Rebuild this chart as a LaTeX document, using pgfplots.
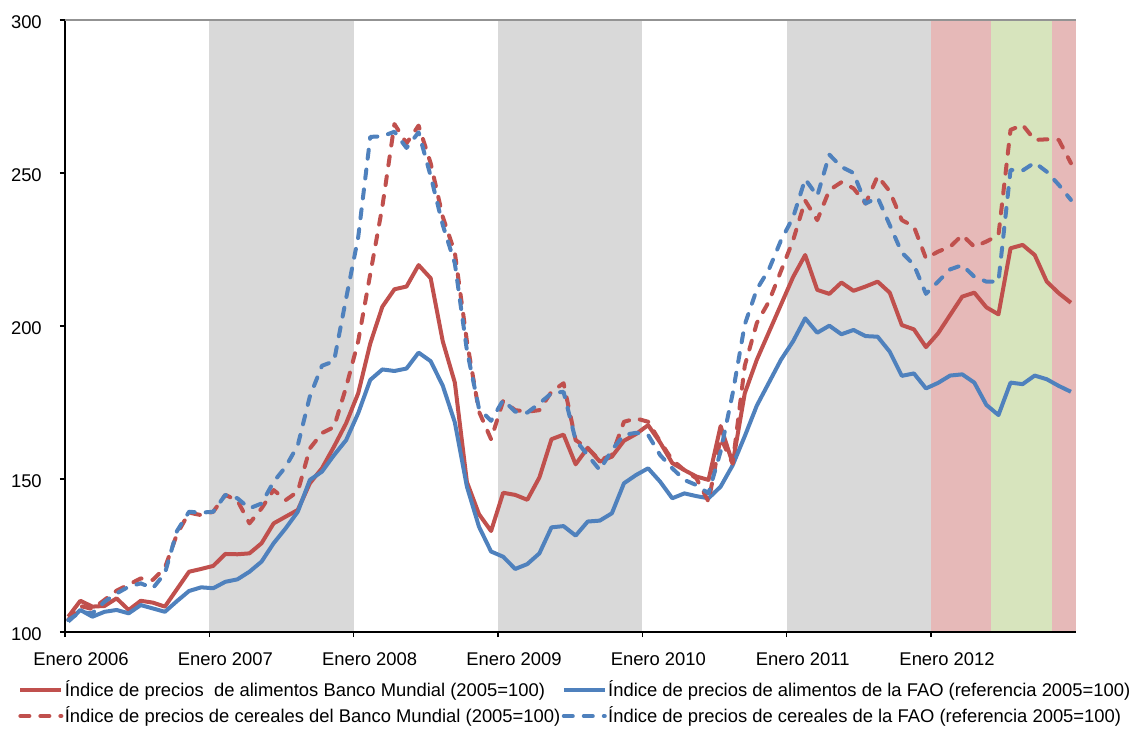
\documentclass[border=0pt]{standalone}
\usepackage{pgfplots}
\usepackage{pgfplotstable}
\pgfplotsset{compat=1.18}
\usepackage{fontspec}
\setmainfont{Liberation Sans}
\definecolor{wbred}{RGB}{192,80,77}
\definecolor{faoblue}{RGB}{79,129,189}
\definecolor{bandgray}{RGB}{217,217,217}
\definecolor{bandred}{RGB}{230,185,184}
\definecolor{bandgreen}{RGB}{215,228,189}
\pgfplotstableread{
m wbf fao wbc faoc
0 105.0 103.4 104.0 103.9
1 110.2 107.2 108.5 106.5
2 108.3 105.0 107.5 106.1
3 108.5 106.6 110.5 109.9
4 111.0 107.2 113.5 112.6
5 107.2 106.1 115.5 114.8
6 110.2 108.8 117.5 115.9
7 109.6 107.7 117.0 114.3
8 108.3 106.6 121.0 119.2
9 114.0 110.1 132.0 133.0
10 119.7 113.4 139.0 139.3
11 120.6 114.6 138.2 139.0
12 121.6 114.3 139.3 139.3
13 125.5 116.4 144.8 144.8
14 125.4 117.2 143.0 143.7
15 125.7 119.7 135.5 140.4
16 129.0 123.0 140.4 142.0
17 135.5 129.0 146.4 149.1
18 137.7 133.9 143.1 154.0
19 139.9 139.3 145.9 161.0
20 148.6 149.7 160.0 177.0
21 153.5 152.4 165.0 187.0
22 160.6 157.8 167.0 188.5
23 168.2 162.7 180.0 209.0
24 178.0 171.5 195.0 229.0
25 194.3 182.4 217.0 261.8
26 206.3 185.8 239.0 262.0
27 212.0 185.3 266.0 263.5
28 212.9 186.1 259.7 258.2
29 219.9 191.3 265.5 263.3
30 215.6 188.5 253.2 249.0
31 195.0 180.5 235.7 233.0
32 181.5 168.5 224.0 220.5
33 149.0 147.5 195.0 192.0
34 138.5 134.4 172.0 173.0
35 133.0 126.3 163.0 169.0
36 145.5 124.6 175.5 175.8
37 144.8 120.6 172.5 172.0
38 143.2 122.2 172.0 171.7
39 150.5 125.7 172.5 174.7
40 163.0 134.2 178.5 178.0
41 164.5 134.6 181.3 178.5
42 154.8 131.5 162.7 162.7
43 160.2 136.1 160.0 157.8
44 155.7 136.4 156.2 152.9
45 157.3 138.8 157.8 159.5
46 162.5 148.6 168.7 164.4
47 164.7 151.3 169.8 165.1
48 167.6 153.5 168.7 164.4
49 161.9 149.1 162.2 157.8
50 155.2 143.7 156.2 153.5
51 152.9 145.3 152.9 149.7
52 150.8 144.4 150.2 148.0
53 149.7 143.7 142.6 145.3
54 167.3 147.5 163.5 159.0
55 155.1 154.5 155.0 178.0
56 178.0 164.0 187.0 200.5
57 189.0 174.0 201.0 212.0
58 198.0 181.5 208.0 218.5
59 207.0 189.0 218.0 228.0
60 216.0 195.0 228.0 235.5
61 223.2 202.5 241.0 248.0
62 211.8 197.8 234.6 242.5
63 210.5 200.1 244.4 256.0
64 214.2 197.3 247.0 252.0
65 211.5 198.7 245.0 250.0
66 212.9 196.7 240.0 240.0
67 214.5 196.5 249.0 242.0
68 210.9 191.6 244.0 233.0
69 200.3 183.7 234.6 224.0
70 198.9 184.5 232.5 220.0
71 193.1 179.6 222.1 210.5
72 197.6 181.4 224.3 214.5
73 203.6 183.8 225.9 218.5
74 209.6 184.2 229.7 219.9
75 210.9 181.5 225.9 216.1
76 206.1 174.2 227.6 214.5
77 203.8 170.9 229.7 214.5
78 225.4 181.5 264.1 251.0
79 226.5 181.0 265.7 250.8
80 223.2 183.8 260.8 253.4
81 214.5 182.6 261.0 250.4
82 210.7 180.4 260.8 246.1
83 207.6 178.5 253.2 241.2
}\data
\begin{document}
\begin{tikzpicture}
\begin{axis}[
  at={(0,0)}, anchor=south west,
  scale only axis, width=505.5pt, height=306pt,
  xmin=-0.27, xmax=83.42, ymin=100, ymax=300,
  axis x line=bottom, axis y line=left,
  axis line style={-, black, line width=0.9pt},
  axis on top,
  tick align=outside, major tick length=2.5pt,
  tick style={black, line width=0.8pt},
  xtick={-0.27,11.68,23.62,35.57,47.52,59.47,71.42},
  xticklabels={Enero 2006,Enero 2007,Enero 2008,Enero 2009,Enero 2010,Enero 2011,Enero 2012},
  ytick={100,150,200,250,300},
  extra y ticks={300}, extra y tick labels={},
  extra y tick style={grid=major, major grid style={color=gray!85, line width=1pt}},
  ticklabel style={font=\fontsize{9.2}{11}\selectfont},
  /pgf/number format/assume math mode=true,
  xticklabel style={xshift=8pt, yshift=-4.5pt},
  yticklabel style={xshift=-5.6pt, yshift=-1pt},
  legend columns=2,
  legend cell align=left,
  legend style={at={(-0.0465,-0.0768)}, anchor=north west, draw=none, fill=none,
    inner sep=0pt, font=\fontsize{9.2}{11}\selectfont,
    nodes={inner sep=0.7pt}, row sep=2pt, column sep=0pt},
  legend image code/.code={\draw[#1] (0pt,0pt) -- (20.5pt,0pt);},
]
\addplot[draw=none, fill=bandgray, forget plot] coordinates {(11.68,300) (23.62,300)} \closedcycle;
\addplot[draw=none, fill=bandgray, forget plot] coordinates {(35.57,300) (47.52,300)} \closedcycle;
\addplot[draw=none, fill=bandgray, forget plot] coordinates {(59.47,300) (71.42,300)} \closedcycle;
\addplot[draw=none, fill=bandred, forget plot] coordinates {(71.42,300) (76.40,300)} \closedcycle;
\addplot[draw=none, fill=bandgreen, forget plot] coordinates {(76.40,300) (81.44,300)} \closedcycle;
\addplot[draw=none, fill=bandred, forget plot] coordinates {(81.44,300) (83.42,300)} \closedcycle;

\addplot[wbred, line width=2pt, line join=round] table[x=m, y=wbf] {\data};
\addlegendentry{Índice de precios\ \ de alimentos Banco Mundial (2005=100)}
\addplot[faoblue, line width=2pt, line join=round] table[x=m, y=fao] {\data};
\addlegendentry{Índice de precios de alimentos de la FAO (referencia 2005=100)}
\addplot[wbred, line width=2pt, line join=round, line cap=round, dash pattern=on 4.5pt off 5.5pt] table[x=m, y=wbc] {\data};
\addlegendentry{Índice de precios de cereales del Banco Mundial (2005=100)}
\addplot[faoblue, line width=2pt, line join=round, line cap=round, dash pattern=on 4.5pt off 5.5pt] table[x=m, y=faoc] {\data};
\addlegendentry{Índice de precios de cereales de la FAO (referencia 2005=100)}
\end{axis}
\pgfresetboundingbox
\path[use as bounding box] (-32.5pt,-48pt) rectangle (540pt,316pt);
\end{tikzpicture}
\end{document}
